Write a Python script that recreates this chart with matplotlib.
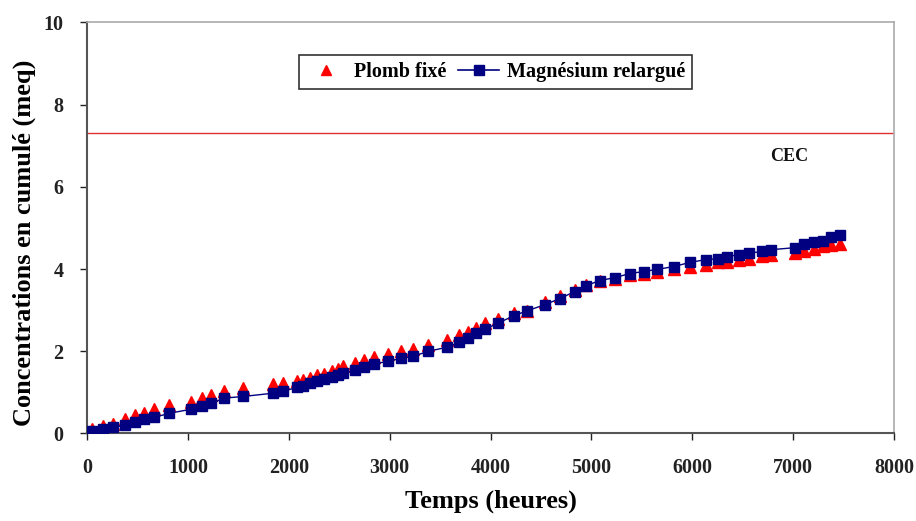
import matplotlib
matplotlib.use("Agg")
import matplotlib.pyplot as plt
from matplotlib.lines import Line2D

# Time (hours)
temps = [47, 159, 258, 377, 476, 566, 665, 814, 1032, 1141, 1231, 1360, 1548,
         1846, 1945, 2084, 2144, 2213, 2283, 2352, 2432, 2491, 2541, 2660, 2749,
         2849, 2988, 3117, 3236, 3385, 3573, 3692, 3772, 3861, 3950, 4079, 4228,
         4357, 4536, 4685, 4834, 4943, 5082, 5231, 5380, 5519, 5648, 5816, 5975,
         6134, 6253, 6342, 6462, 6561, 6690, 6779, 7017, 7107, 7206, 7295, 7375,
         7464]

# Magnesium released (meq, cumulative)
magnesium = [0.07, 0.12, 0.15, 0.20, 0.27, 0.34, 0.39, 0.49, 0.59, 0.66, 0.73,
             0.86, 0.90, 0.98, 1.03, 1.12, 1.15, 1.22, 1.27, 1.32, 1.37, 1.42,
             1.47, 1.54, 1.61, 1.69, 1.76, 1.83, 1.88, 2.00, 2.10, 2.22, 2.32,
             2.44, 2.54, 2.69, 2.86, 2.98, 3.13, 3.28, 3.45, 3.59, 3.72, 3.79,
             3.89, 3.94, 3.99, 4.06, 4.16, 4.23, 4.25, 4.30, 4.35, 4.38, 4.43,
             4.47, 4.52, 4.60, 4.65, 4.69, 4.77, 4.82]

# Lead fixed (meq, cumulative)
plomb = [0.10, 0.19, 0.24, 0.35, 0.45, 0.51, 0.59, 0.69, 0.77, 0.87, 0.94,
         1.03, 1.10, 1.20, 1.22, 1.28, 1.30, 1.36, 1.43, 1.45, 1.53, 1.57,
         1.65, 1.71, 1.79, 1.87, 1.93, 2.00, 2.06, 2.16, 2.28, 2.39, 2.47,
         2.57, 2.69, 2.79, 2.93, 2.99, 3.19, 3.35, 3.49, 3.61, 3.70, 3.76,
         3.85, 3.89, 3.94, 3.99, 4.05, 4.11, 4.16, 4.18, 4.23, 4.25, 4.31,
         4.34, 4.39, 4.43, 4.49, 4.55, 4.58, 4.61]

cec_value = 7.32
x_ticks = [0, 1000, 2000, 3000, 4000, 5000, 6000, 7000, 8000]
y_ticks = [0, 2, 4, 6, 8, 10]

serif = ['Liberation Serif', 'DejaVu Serif']
plt.rcParams['font.family'] = serif

fig = plt.figure(figsize=(9.16, 5.21), dpi=100)
ax = fig.add_axes([0.095, 0.168, 0.881, 0.789])

red = '#ff0000'
navy = '#000080'

ax.plot(temps, plomb, linestyle='none', marker='^', markersize=8,
        color=red, markeredgecolor=red, zorder=3)
ax.plot(temps, magnesium, linestyle='-', linewidth=1.0, color=navy,
        marker='s', markersize=7.5, markerfacecolor=navy,
        markeredgecolor=navy, zorder=4)

ax.axhline(cec_value, color='#e03030', linewidth=1.0, zorder=2)
ax.text(6960, 6.75, 'CEC', fontsize=13, fontweight='bold', ha='center',
        va='center', color='#111111')

ax.set_xlim(0, 8000)
ax.set_ylim(0, 10)
ax.set_xticks(x_ticks)
ax.set_yticks(y_ticks)
ax.tick_params(axis='both', direction='out', length=5, width=1,
               labelsize=14.5, colors='#222222')
ax.tick_params(axis='x', pad=13)
ax.tick_params(axis='y', pad=12)
for lab in ax.get_xticklabels() + ax.get_yticklabels():
    lab.set_fontweight('bold')

for side in ['left', 'bottom']:
    ax.spines[side].set_color('#555555')
    ax.spines[side].set_linewidth(1.5)
for side in ['top', 'right']:
    ax.spines[side].set_color('#aaaaaa')
    ax.spines[side].set_linewidth(1.2)

ax.set_xlabel('Temps (heures)', fontsize=19, fontweight='bold', labelpad=8)
ax.set_ylabel('Concentrations en cumulé (meq)', fontsize=19,
              fontweight='bold')
ax.yaxis.set_label_coords(-0.063, 0.465)

handles = [
    Line2D([], [], linestyle='none', marker='^', markersize=7, color=red),
    Line2D([], [], linestyle='-', linewidth=1.2, color=navy, marker='s',
           markersize=7),
]
leg = ax.legend(handles, ['Plomb fixé', 'Magnésium relargué'], ncol=2,
                loc='upper center', bbox_to_anchor=(0.506, 0.92),
                frameon=True, fancybox=False, shadow=False,
                prop={'family': serif, 'weight': 'bold', 'size': 14.5},
                handlelength=2.0, handletextpad=0.4, columnspacing=0.6,
                borderpad=0.35, borderaxespad=0)
leg.get_frame().set_edgecolor('black')
leg.get_frame().set_linewidth(1.2)

fig.savefig('out.png', dpi=100)
